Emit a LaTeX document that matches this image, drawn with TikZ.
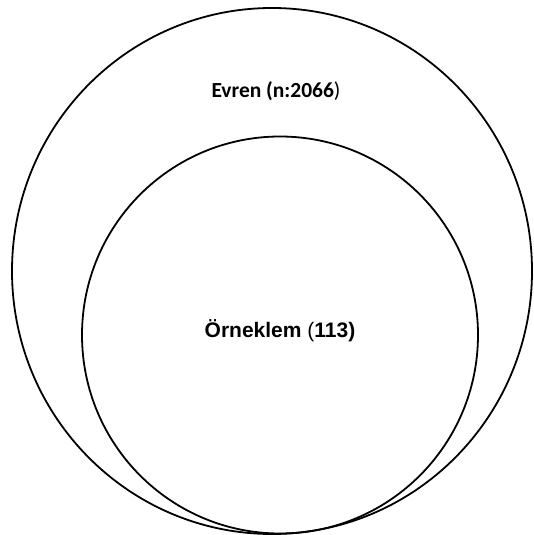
\documentclass[tikz,border=0pt]{standalone}
\usepackage{fontspec}
\setmainfont{Liberation Sans}
\newfontfamily\carlito{Carlito}
\usetikzlibrary{positioning,shapes.geometric}

\begin{document}
\begin{tikzpicture}[x=1pt,y=-1pt]

\tikzstyle{kume}=[draw=black,line width=1.8pt,ellipse,inner sep=0pt]
\tikzstyle{etiket}=[font=\bfseries,inner sep=0pt]

\useasboundingbox (0,0) rectangle (533,535);

\node [kume,minimum width=520pt,minimum height=526pt] (evren) at (272,271) {};
\node [kume,minimum width=396pt,minimum height=397pt] (orneklem) at (280,335) {};

\node [etiket,font=\carlito\bfseries\fontsize{21.5}{25}\selectfont] (evrenad) at (276,91) {Evren (n:2066{\mdseries)}};
\node [etiket,font=\bfseries\fontsize{21}{25}\selectfont] (orneklemad) at (280,331) {Örneklem {\mdseries(}113)};

\end{tikzpicture}
\end{document}
